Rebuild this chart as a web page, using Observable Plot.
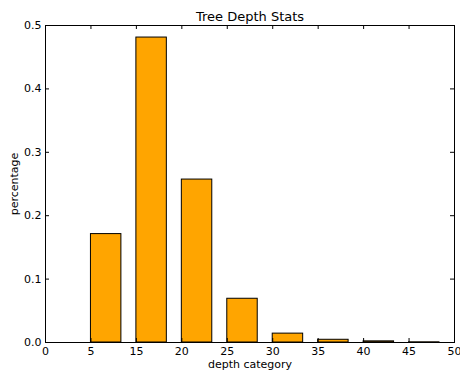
<!DOCTYPE html>
<html>
<head>
<meta charset="utf-8">
<script src="https://cdn.jsdelivr.net/npm/d3@7"></script>
<script src="https://cdn.jsdelivr.net/npm/@observablehq/plot@0.6"></script>
<style>
  html, body { margin: 0; padding: 0; background: #fff; }
  svg { display: block; }
</style>
</head>
<body>
<div id="chart"></div>
<script>
// Data
const categoryIndex = [0, 1, 2, 3, 4, 5, 6, 7, 8];
const percentages = [0.0, 0.171, 0.481, 0.257, 0.069, 0.014, 0.0043, 0.0018, 0.0003];
const xTickPositions = [0, 1, 2, 3, 4, 5, 6, 7, 8, 9];
const xTickLabels = ["0", "5", "15", "20", "25", "30", "35", "40", "45", "50"];
const yTicks = [0, 0.1, 0.2, 0.3, 0.4, 0.5];
const titleText = ["Tree Depth Stats"];
const barWidth = 0.67;

const data = categoryIndex.map((c, i) => ({x1: c, x2: c + barWidth, y: percentages[i]}));

const W = 460, H = 370;
const mt = 25, mb = 28, ml = 45, mr = 6;
const plotH = H - mt - mb, plotW = W - ml - mr;
const tick = 4;
const font = "DejaVu Sans, sans-serif";

const chart = Plot.plot({
  width: W,
  height: H,
  marginTop: mt,
  marginBottom: mb,
  marginLeft: ml,
  marginRight: mr,
  style: {fontFamily: font, fontSize: "11px", color: "#000", background: "#fff"},
  x: {domain: [0, 9], ticks: xTickPositions},
  y: {domain: [0, 0.5], ticks: yTicks},
  marks: [
    Plot.rectY(data, {x1: "x1", x2: "x2", y: "y", fill: "#FFA500", stroke: "#000", strokeWidth: 1}),
    // inward ticks, all four sides
    Plot.tickX(xTickPositions, {x: d => d, insetTop: plotH - tick, stroke: "#000"}),
    Plot.tickX(xTickPositions, {x: d => d, insetBottom: plotH - tick, stroke: "#000"}),
    Plot.tickY(yTicks, {y: d => d, insetRight: plotW - tick, stroke: "#000"}),
    Plot.tickY(yTicks, {y: d => d, insetLeft: plotW - tick, stroke: "#000"}),
    Plot.axisX({ticks: xTickPositions, tickSize: 0, tickPadding: 5,
      tickFormat: (d, i) => xTickLabels[i], fontSize: 11,
      label: "depth category", labelAnchor: "center", labelArrow: "none", labelOffset: 25}),
    Plot.axisY({ticks: yTicks, tickSize: 0, tickPadding: 4,
      tickFormat: d => d.toFixed(1), fontSize: 11,
      label: "percentage", labelAnchor: "center", labelArrow: "none", labelOffset: 35}),
    Plot.frame({stroke: "#000", strokeWidth: 1}),
    Plot.text(titleText, {frameAnchor: "top", lineAnchor: "bottom", dy: -5, fontSize: 13, text: d => d, fill: "#000"})
  ]
});
document.getElementById("chart").appendChild(chart);
</script>
</body>
</html>
